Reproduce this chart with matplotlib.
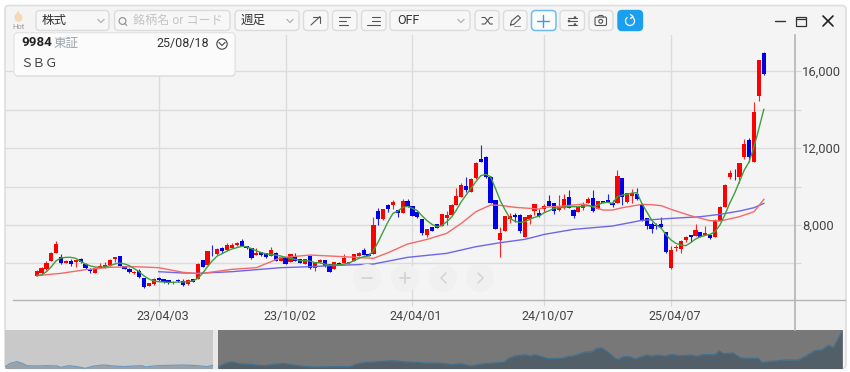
import matplotlib
matplotlib.use("Agg")
import matplotlib.pyplot as plt
from matplotlib.patches import FancyBboxPatch, Rectangle, Circle
from matplotlib.ticker import FixedLocator, FixedFormatter
from matplotlib.transforms import ScaledTranslation
import numpy as np

plt.rcParams['font.family'] = ['Roboto', 'Noto Sans CJK JP', 'DejaVu Sans']

opens = [5368,5523,5714,6147,6563,6355,6043,6130,6060,6234,
         5991,5731,5523,5801,5835,5922,6216,6390,5870,5731,
         5489,5627,5229,4831,4935,5246,5177,5125,4987,5142,
         5108,4917,5177,5177,6182,5939,6666,6476,6805,6684,
         6805,6944,7186,6909,6788,6459,6597,6528,6389,6563,
         6130,6319,6094,6388,6215,5972,6388,5747,6059,6180,
         5955,5713,6042,6042,6007,6128,6405,6700,6509,6492,
         8709,8293,9055,9021,8778,8640,9229,8986,8692,8311,
         7462,7895,8033,7947,8380,8536,9055,9471,10025,9713,
         10424,11411,11549,10510,9298,7219,7687,8311,8518,8536,
         7393,8293,8709,8640,8847,9263,9124,8760,8864,9471,
         8795,8674,8899,9159,9401,8830,9245,9280,9159,9159,
         10440,9176,9505,9609,9020,8362,8033,7981,8050,7617,
         5747,6803,6769,7219,7461,7444,7617,7479,7496,7392,
         8224,8951,10475,10614,10510,11514,12415,11272,14701,16953]
highs = [5680,5800,6147,6620,7169,6476,6170,6234,6200,6268,
         6030,5780,5800,6043,6095,6230,6350,6400,5880,5760,
         5620,5700,5250,4990,5230,5280,5210,5150,5080,5180,
         5170,5200,5200,6000,6190,6640,6961,6800,6840,7040,
         7040,7100,7255,6930,6800,6788,6620,6540,6840,6580,
         6380,6340,6500,6561,6240,6240,6420,6040,6240,6200,
         5980,6100,6060,6475,6100,6500,6590,6786,6530,8432,
         8865,8830,9070,9298,8800,9350,9333,9000,8710,8330,
         7810,7920,8050,8570,8744,9070,9904,10198,10510,10458,
         11260,12156,11570,10530,9320,7877,8490,8640,8605,8550,
         8420,8550,9110,8813,9090,9540,9150,9575,9609,9817,
         8810,8950,9211,9436,9817,9260,9260,9609,9297,10856,
         10460,9660,9852,9903,9040,8380,8172,8085,8397,7630,
         6925,6959,7200,7410,7480,8033,7640,7947,7510,8290,
         8970,10110,10856,10891,11240,12484,12502,14372,16570,17005]
lows = [5340,5480,5680,6120,6530,5956,6000,5887,5835,6043,
        5700,5523,5510,5780,5783,5880,6095,5850,5720,5530,
        5470,5250,4744,4810,4900,5100,5000,4950,4960,5060,
        4830,4900,5020,5170,5820,5930,6407,6460,6530,6650,
        6780,6920,6890,6770,6250,6440,6400,6300,6370,6130,
        6110,5960,6080,6120,6000,5950,5710,5626,6000,5840,
        5560,5700,5920,6030,5990,6110,6380,6440,6370,6470,
        8000,8280,8690,8848,8397,8620,8930,8450,8380,7480,
        7358,7680,7820,7930,8000,8520,9040,9460,9731,9700,
        10410,11255,10460,9140,7770,6353,7670,8085,8172,7600,
        7370,8033,8518,8440,8691,8980,8570,8740,8850,8880,
        8380,8650,8778,9140,8690,8810,9120,9190,8951,9140,
        9038,9160,9124,9310,8220,7773,7565,7773,7860,6526,
        5730,6665,6561,7115,7132,7430,7370,7460,7290,7380,
        8210,8930,10389,10337,10198,11410,11289,11260,14441,15810]
closes = [5627,5749,6008,6563,7013,6008,6112,5991,6164,6095,
          5749,5593,5783,5887,5904,6182,6320,5870,5731,5558,
          5575,5281,4796,4969,5177,5125,5038,4969,5056,5090,
          4900,5142,5038,5974,5835,6632,6649,6770,6649,6978,
          6978,7082,6909,6788,6268,6563,6424,6320,6701,6147,
          6355,5990,6475,6146,6042,6215,5747,6007,6180,5868,
          5574,6076,5938,6267,6076,6475,6561,6457,6388,8001,
          8293,8813,8813,9194,8605,9263,8951,8466,8397,7566,
          7791,7704,7843,8553,8501,9055,9506,10095,9835,10389,
          11238,11272,10476,9159,7791,7583,8466,8466,8397,7687,
          8397,8536,9090,8466,8986,9003,8709,8951,9367,8899,
          8483,8934,9038,9350,8709,9245,9141,9211,9055,10562,
          9436,9644,9661,9332,8241,7929,7791,7947,7877,6595,
          6700,6873,7184,7392,7392,7721,7392,7600,7306,8276,
          8951,10094,10700,10579,11220,12224,11549,13887,16554,15827]

ma_green = [5370,5400,5575,5835,6147,6286,6320,6320,6268,6112,
            5974,5870,5818,5801,5818,5887,5974,6026,5974,5887,
            5731,5575,5350,5194,5090,5056,5038,5021,5021,5038,
            5038,5056,5090,5229,5489,5835,6147,6389,6511,6649,
            6753,6822,6892,6874,6770,6667,6563,6500,6470,6430,
            6390,6319,6267,6215,6146,6146,6128,6042,6042,5972,
            5920,5920,5938,5972,6024,6146,6267,6353,6388,6665,
            7133,7652,8172,8605,8726,8917,8969,8865,8744,8466,
            8224,8033,7912,7964,8172,8397,8778,9211,9557,9904,
            10250,10562,10631,10510,9904,9263,8778,8345,8189,8137,
            8172,8293,8397,8466,8639,8743,8864,8899,8916,8951,
            8951,8951,8986,9003,8951,9038,9159,9176,9124,9471,
            9557,9592,9661,9678,9124,8691,8258,7998,7825,7479,
            7219,7046,6959,6925,7081,7271,7392,7461,7513,7652,
            7998,8518,9124,9644,10250,10856,11289,12069,13021,14008]

ma_red_week = [0,5,10,15,20,25,30,33,35,40,45,50,56,63,69,72,76,80,84,87,90,93,95,
               98,101,103,104,108,112,114,116,118,120,124,126,128,130,134,138,140,144,147,149]
ma_red = [5370,5489,5679,5801,5835,5783,5541,5472,5523,5697,5783,6300,6440,6353,6267,
          6561,7012,7254,7566,8085,8692,9038,9021,8917,8865,8830,8916,8986,9090,8951,
          8778,8778,8899,9072,9055,9003,8812,8483,8224,8206,8431,8691,9332]

ma_blue_week = [25,30,33,40,50,56,60,69,76,84,90,95,100,103,104,110,118,124,130,136,140,144,147,149]
ma_blue = [5575,5506,5489,5575,5783,5834,5886,5972,6319,6527,6873,7081,7254,7444,7513,
           7773,7947,8241,8345,8431,8553,8726,8899,9124]

nav_week = [0.2,1.4,3.0,4.2,5.4,7.8,10.2,12.6,13.4,15.4,17.4,19.4,21.4,23.8,26.2,28.6,31.0,33.0,33.8,
            36.6,39.8,43.0,46.2,48.6,50.2,51.4,53.0,54.6,56.2,59.0,62.2,64.6,67.0,69.4,72.6,75.0,79.0,
            83.0,84.2,86.2,89.4,92.9,95.8,98.9,101.0,103.4,105.8,107.4,109.4,111.8,114.5,117.0,119.8,
            121.0,122.5,125.0,126.1,127.3,130.5,133.7,135.3,136.5,139.3,141.0,142.1,143.3,144.9,146.5,
            147.3,148.5,150.1,151.3,154.1,155.3,156.9,158.5,160.1,161.7,164.9,166.1,167.3,170.5,171.5,
            172.5,174.9,176.5,178.1,180.9,181.7,184.1,187.3,190.5,192.1,194.5,196.1,197.7,198.9,200.9]
nav_price = [5400,6500,7050,6500,5730,5620,5730,5620,5180,5730,5400,4850,5620,5950,5620,5400,5620,5730,5290,
             5730,5840,5950,5730,5400,5950,5400,6500,7050,6390,6170,5730,6170,6500,5950,5400,5290,5400,
             5400,6170,6720,7050,7380,7050,6830,6610,6610,6390,6060,6390,5620,6280,6610,6830,
             8150,8920,9360,8920,9360,8040,8150,8810,8920,10240,10350,11450,11560,10130,8150,
             7820,8700,8700,7930,9250,8920,9250,8920,9470,9030,9250,8810,9360,9360,10680,
             9690,9910,8370,8150,8150,6830,7160,7600,7600,8810,10680,10900,12440,11670,16950]

date_ticks = [25, 51, 77, 104, 130]
date_labels = ['23/04/03', '23/10/02', '24/04/01', '24/10/07', '25/04/07']
price_ticks = [6000, 8000, 10000, 12000, 14000, 16000]
price_labels = ['', '8,000', '', '12,000', '', '16,000']

W, H = 850, 372
fig = plt.figure(figsize=(W / 100, H / 100), dpi=100, facecolor='white')


def px_axes(x0, y0, x1, y1, **kw):
    return fig.add_axes([x0 / W, 1 - y1 / H, (x1 - x0) / W, (y1 - y0) / H], **kw)


# background layer
bg = px_axes(0, 0, W, H, zorder=0)
bg.set_xlim(0, W); bg.set_ylim(H, 0); bg.axis('off')
bg.add_patch(FancyBboxPatch((5, 5.5), 841, 363, boxstyle='round,pad=0,rounding_size=4',
                            fc='#f4f4f4', ec='#dedede', lw=1.2))

# main chart
ax = px_axes(5, 35, 795, 300, zorder=1)
ax.patch.set_alpha(0)
xs = np.arange(len(closes))
o, h, l, c = map(np.array, (opens, highs, lows, closes))
ax.set_xlim((5 - 36.7) / 4.88, (795 - 36.7) / 4.88)
ax.set_ylim(8000 + (225 - 300) * 51.95, 8000 + (225 - 35) * 51.95)
up = c >= o
ax.vlines(xs[up], l[up], h[up], color='#ff2020', lw=0.8, zorder=3)
ax.vlines(xs[~up], l[~up], h[~up], color='#2020ff', lw=0.8, zorder=3)
ax.bar(xs[up], (c - o)[up], bottom=o[up], width=0.86, color='#ff0000', lw=0, zorder=3)
ax.bar(xs[~up], (o - c)[~up], bottom=c[~up], width=0.86, color='#0000e6', lw=0, zorder=3)
ax.plot(ma_blue_week, ma_blue, color='#6e66e8', lw=1.0, zorder=4)
ax.plot(ma_red_week, ma_red, color='#f46a6a', lw=1.0, zorder=4)
ax.plot(xs, ma_green, color='#3f9f3f', lw=1.0, zorder=5)

ax.xaxis.set_major_locator(FixedLocator(date_ticks))
ax.xaxis.set_major_formatter(FixedFormatter(date_labels))
ax.yaxis.set_major_locator(FixedLocator(price_ticks))
ax.yaxis.set_major_formatter(FixedFormatter(price_labels))
ax.yaxis.tick_right()
ax.grid(True, color='#dcdcdc', lw=1.0, zorder=0)
ax.set_axisbelow(True)
ax.tick_params(axis='x', length=4.5, width=0.8, color='#d8d8d8', labelsize=9, labelcolor='#444444', pad=2)
ax.tick_params(axis='y', length=4, width=0.8, color='#d8d8d8', labelsize=9.4, labelcolor='#444444', pad=1)
for lab in ax.get_xticklabels():
    lab.set_transform(lab.get_transform() + ScaledTranslation(3.7 / 100, -1 / 100, fig.dpi_scale_trans))
for s in ('top', 'left', 'bottom', 'right'):
    ax.spines[s].set_visible(False)

# navigator
nav = px_axes(4.5, 330, 843, 368.5, zorder=2)
nav.set_xlim(0, 201.2)
nav.set_ylim(4795, 17500)
nav.axis('off')
nav.axvspan(0, 50.2, color='#c9c9c9', lw=0)
nav.axvspan(51.3, 201.2, color='#787878', lw=0)
nw, np_ = np.array(nav_week), np.array(nav_price)
left = nw <= 50.2
right = nw >= 51.4
nav.fill_between(nw[left], np_[left], 4795, color='#9aa2a8', lw=0, zorder=3)
nav.fill_between(nw[right], np_[right], 4795, color='#525f69', lw=0, zorder=3)
nav.plot(nw[left], np_[left], color='#6f9ac0', lw=0.9, zorder=4)
nav.plot(nw[right], np_[right], color='#41708f', lw=0.9, zorder=4)

# chrome layer
top = px_axes(0, 0, W, H, zorder=3)
top.set_xlim(0, W); top.set_ylim(H, 0); top.axis('off'); top.patch.set_alpha(0)
top.plot([13, 845], [300, 300], color='#b4b4b4', lw=1.0)
top.plot([795, 795], [35, 330], color='#b4b4b4', lw=1.2)

ICON = '#555555'


def box(x0, x1, y0=10.5, y1=30.5, fc='#f7f7f7', ec='#dcdcdc', lw=1.0):
    top.add_patch(FancyBboxPatch((x0, y0), x1 - x0, y1 - y0,
                                 boxstyle='round,pad=0,rounding_size=4', fc=fc, ec=ec, lw=lw))


def chev(x, y=21, col='#a8a8a8'):
    top.plot([x - 3, x, x + 3], [y - 1.5, y + 1.5, y - 1.5], color=col, lw=0.8)


def seg(pts, col=ICON, lw=0.8):
    a = np.array(pts)
    top.plot(a[:, 0], a[:, 1], color=col, lw=lw, solid_capstyle='round')


# Hot icon
top.fill([18.5, 14.5, 15, 18.5, 22, 22.5, 19.5], [10.5, 16, 20.5, 22, 20.5, 16, 13.5],
         color='#f6d9b2', lw=0)
top.text(18.5, 27, 'Hot', fontsize=5.5, color='#9a9a9a', ha='center', va='center')

box(36, 109); chev(101)
top.text(42, 20.5, '株式', fontsize=9, color='#333333', va='center')
box(114.5, 230)
top.add_patch(Circle((122.5, 21), 3.4, fc='none', ec='#8c8c8c', lw=0.8))
seg([(125, 23.6), (126.8, 25.4)], '#8c8c8c', 0.8)
top.text(133, 20.5, '銘柄名 or コード', fontsize=8.7, color='#c4c4c4', va='center')
box(235, 299); chev(290)
top.text(241, 20.5, '週足', fontsize=9, color='#333333', va='center')
box(303.5, 328)
seg([(311, 25), (320, 16.5)]); seg([(313.5, 16.5), (320, 16.5), (320, 23)])
box(332.5, 357)
seg([(339, 17), (350, 17)]); seg([(339, 21), (346, 21)]); seg([(339, 25), (348, 25)])
box(361.5, 386)
seg([(372, 17), (380, 17)]); seg([(372, 21), (380, 21)]); seg([(367, 25), (380, 25)])
box(390, 470); chev(461)
top.text(397, 20.5, 'OFF', fontsize=9, color='#333333', va='center')
box(475, 499)
seg([(482, 17.5), (485, 17.5), (490, 24), (492.5, 24)]); seg([(482, 24), (485, 24), (490, 17.5), (492.5, 17.5)])
box(503.5, 527)
seg([(510.5, 25), (511.5, 21), (518, 15.5), (520.5, 18), (514, 24.3), (510.5, 25)]); seg([(514, 25.5), (520, 25.5)], '#888888', 0.7)
box(531.5, 556, fc='#fbfbfb', ec='#6cbcf2', lw=1.1)
seg([(543.5, 15), (543.5, 27)], '#2f9df0', 1.0); seg([(537.5, 21), (549.5, 21)], '#2f9df0', 1.0)
box(560, 584.5)
for yy, xm in ((17.5, 575), (21, 569), (24.5, 575)):
    seg([(568, yy), (577, yy)], ICON, 0.8)
    top.add_patch(Circle((xm, yy), 1.3, fc=ICON, ec='none'))
box(589, 613)
top.add_patch(FancyBboxPatch((595, 17), 11.5, 8.5, boxstyle='round,pad=0,rounding_size=1.5', fc='none', ec=ICON, lw=0.8))
top.add_patch(Circle((600.7, 21.3), 1.9, fc='none', ec=ICON, lw=0.8))
seg([(598, 17), (599, 15.5), (602.5, 15.5), (603.5, 17)], ICON, 0.8)
box(618, 642.5, fc='#1b9fef', ec='#1b9fef')
th = np.deg2rad(np.linspace(-50, 230, 30))
seg(np.c_[630 + 4.5 * np.cos(th), 21 + 4.5 * np.sin(th)], 'white', 0.9)
seg([(630.5, 14.5), (633, 16.5), (630.5, 18.5)], 'white', 0.9)

# window controls
seg([(775, 21), (785, 21)], '#333333', 1.0)
top.add_patch(Rectangle((796, 16.5), 10, 9, fc='none', ec='#333333', lw=0.9))
seg([(796, 18.7), (806, 18.7)], '#333333', 0.9)
seg([(823, 16), (833, 26)], '#222222', 1.2)
seg([(833, 16), (823, 26)], '#222222', 1.2)

# tooltip
top.add_patch(FancyBboxPatch((14.5, 34), 221, 43, boxstyle='round,pad=0,rounding_size=4',
                             fc='#d4d4d4', ec='none', alpha=0.55))
top.add_patch(FancyBboxPatch((14, 32.7), 221, 43, boxstyle='round,pad=0,rounding_size=4',
                             fc='#fbfbfb', ec='#e2e2e2', lw=0.8))
top.text(21, 43, '9984', fontsize=9.6, fontweight='bold', color='#222222', va='center')
top.text(53, 43, '東証', fontsize=9, color='#9aa4ac', va='center')
top.text(156, 43, '25/08/18', fontsize=9, color='#333333', va='center')
top.add_patch(Circle((222, 44), 5.2, fc='none', ec='#444444', lw=0.8))
chev(222, 44, '#444444')
top.text(20, 63, 'ＳＢＧ', fontsize=9, color='#444444', va='center')

# pager buttons
for bx in (367, 405, 443, 480):
    top.add_patch(Circle((bx, 278), 14, fc='#f0f0f0', ec='none'))
seg([(362, 278), (372, 278)], '#d4d4d4', 1.3)
seg([(400, 278), (410, 278)], '#d4d4d4', 1.3); seg([(405, 273), (405, 283)], '#d4d4d4', 1.3)
seg([(446, 273), (441, 278), (446, 283)], '#d4d4d4', 1.1)
seg([(478, 273), (483, 278), (478, 283)], '#d4d4d4', 1.1)

# navigator handle
top.add_patch(Rectangle((213, 330), 5.5, 38.5, fc='#e8e8e8', ec='none'))

fig.savefig('out.png', dpi=100, facecolor='white')
